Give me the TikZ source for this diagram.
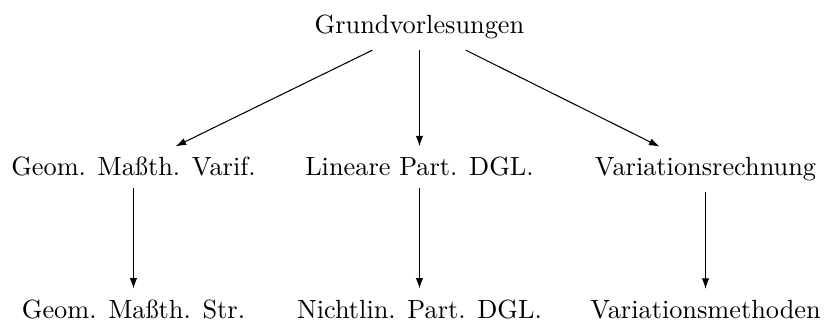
\documentclass[tikz,border=0pt]{standalone}
\usetikzlibrary{arrows.meta}
\begin{document}
\begin{tikzpicture}[>={Latex[length=4pt,width=2.8pt]},
		lecture/.style={anchor=base,inner xsep=0pt,inner ysep=4pt}]
		\useasboundingbox (0,0) rectangle (11.06,4.38);
		\node[lecture] (grund) at (5.603,3.93) {Grundvorlesungen};
		\node[lecture] (geo) at (1.783,2.03) {Geom. Maßth. Varif.};
		\node[lecture] (lin) at (5.603,2.03) {Lineare Part. DGL.};
		\node[lecture] (varr) at (9.424,2.03) {Variationsrechnung};
		\node[lecture] (geom) at (1.783,0.13) {Geom. Maßth. Str.};
		\node[lecture] (nlin) at (5.603,0.13) {Nichtlin. Part. DGL.};
		\node[lecture] (varm) at (9.424,0.13) {Variationsmethoden};
		\draw[->] (grund) to (geo);
		\draw[->] (grund) to (lin);
		\draw[->] (grund) to (varr);
		\draw[->] (geo) to (geom);
		\draw[->] (lin) to (nlin);
		\draw[->] (varr) to (varm);
	\end{tikzpicture}
\end{document}
